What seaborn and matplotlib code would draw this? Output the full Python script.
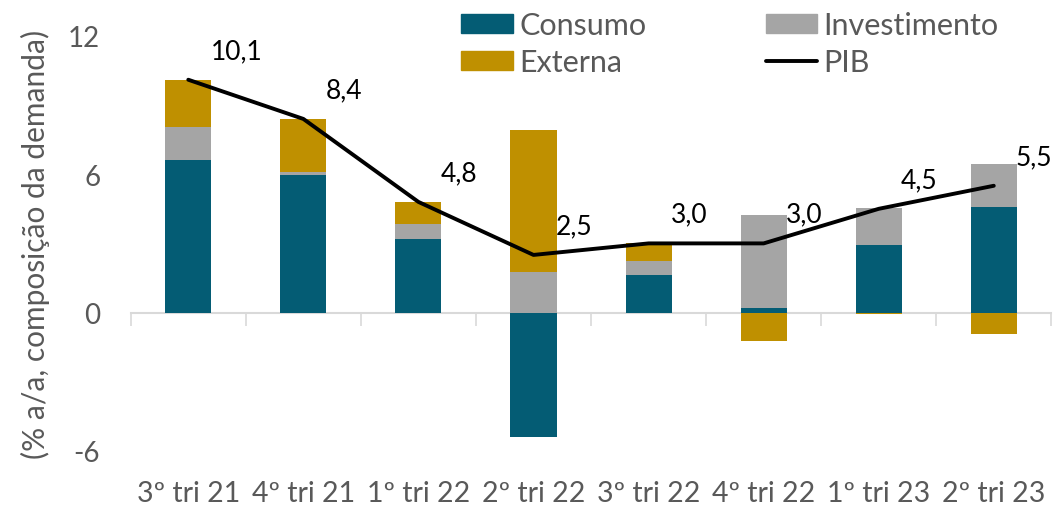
import numpy as np
import pandas as pd
import matplotlib
matplotlib.use('Agg')
import matplotlib.pyplot as plt
from matplotlib.patches import Patch
from matplotlib.lines import Line2D
import seaborn as sns

# dados (contribuição para o PIB, % a/a)
trimestres = ['3º tri 21', '4º tri 21', '1º tri 22', '2º tri 22',
              '3º tri 22', '4º tri 22', '1º tri 23', '2º tri 23']
consumo = [6.6, 5.95, 3.2, -5.4, 1.65, 0.2, 2.95, 4.6]
investimento = [1.45, 0.15, 0.65, 1.75, 0.6, 4.05, 1.6, 1.85]
externa = [2.05, 2.3, 0.95, 6.15, 0.75, -1.25, -0.05, -0.95]
pib = [10.1, 8.4, 4.8, 2.5, 3.0, 3.0, 4.5, 5.5]
pib_labels = ['10,1', '8,4', '4,8', '2,5', '3,0', '3,0', '4,5', '5,5']

cores = {'Consumo': '#045C74', 'Investimento': '#A5A5A5', 'Externa': '#BF9000'}
cinza_txt = '#595959'

sns.set_theme(style='white')
plt.rcParams['font.family'] = ['Lato', 'DejaVu Sans']
plt.rcParams['axes.unicode_minus'] = False

fig = plt.figure(figsize=(10.63, 5.06), dpi=100)
ax = fig.add_axes([0.123, 0.107, 0.866, 0.82])

# empilhamento estilo Excel: positivos e negativos separados
pos_base = np.zeros(len(trimestres))
neg_base = np.zeros(len(trimestres))
for nome, vals in [('Consumo', consumo), ('Investimento', investimento), ('Externa', externa)]:
    v = np.array(vals)
    base = np.where(v >= 0, pos_base, neg_base)
    sns.barplot(x=trimestres, y=v, bottom=base, color=cores[nome], width=0.4,
                saturation=1, ax=ax, linewidth=0)
    pos_base = pos_base + np.where(v >= 0, v, 0)
    neg_base = neg_base + np.where(v < 0, v, 0)

xs = np.arange(len(trimestres))
sns.lineplot(x=xs, y=pib, color='black', linewidth=2.8, ax=ax, sort=False)

for x, y, txt in zip(xs, pib, pib_labels):
    ax.annotate(txt, (x, y), xytext=(16, 21), textcoords='offset points',
                ha='left', va='center', fontsize=19, color='black')

ax.set_ylim(-6, 12)
ax.set_xlim(-0.5, len(trimestres) - 0.5)
ax.set_yticks([-6, 0, 6, 12])
ax.tick_params(axis='y', length=0, pad=22, labelsize=20, labelcolor=cinza_txt)
ax.tick_params(axis='x', length=0, pad=21, labelsize=20.5, labelcolor=cinza_txt)
for s in ['top', 'right', 'left', 'bottom']:
    ax.spines[s].set_visible(False)
ax.set_ylabel('(% a/a, composição da demanda)', fontsize=21.5, color=cinza_txt, labelpad=13)
ax.set_xlabel('')

# eixo no zero com marcas entre categorias
eixo0 = ax.secondary_xaxis(6 / 18)
eixo0.set_xticks(np.arange(-0.5, len(trimestres), 1.0))
eixo0.set_xticklabels([])
eixo0.tick_params(axis='x', direction='out', length=9, width=1.2, color='#D9D9D9')
eixo0.spines['bottom'].set_color('#D9D9D9')
eixo0.spines['bottom'].set_linewidth(1.5)

handles = [Patch(color=cores['Consumo']), Patch(color=cores['Externa']),
           Patch(color=cores['Investimento']), Line2D([], [], color='black', lw=2.8)]
labels = ['Consumo', 'Externa', 'Investimento', 'PIB']
leg = fig.legend(handles, labels, loc='upper left', bbox_to_anchor=(0.408, 1.03), ncol=2,
                 frameon=False, fontsize=22, handlelength=1.7, handleheight=0.6,
                 handletextpad=0.2, columnspacing=3.9, labelspacing=0.3)
for t in leg.get_texts():
    t.set_color(cinza_txt)

fig.savefig('out.png', dpi=100)
